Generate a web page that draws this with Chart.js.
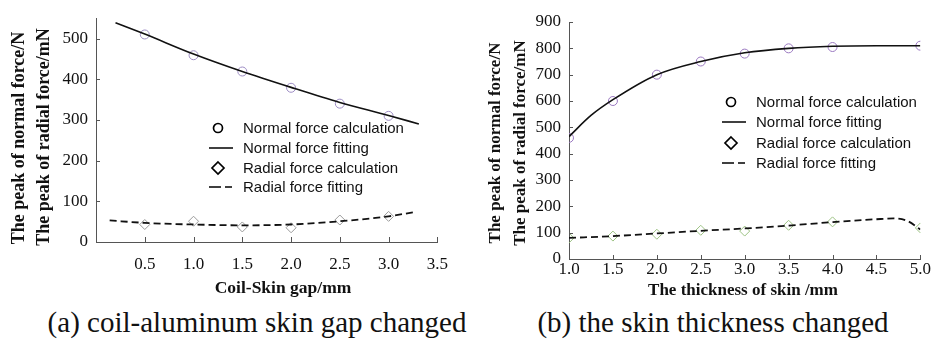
<!DOCTYPE html>
<html>
<head>
<meta charset="utf-8">
<script src="https://cdn.jsdelivr.net/npm/chart.js@4.4.0/dist/chart.umd.min.js"></script>
<style>
  body { margin: 0; background: #fff; width: 931px; height: 342px; position: relative; overflow: hidden; }
  .box { position: absolute; top: 0; height: 300px; }
  #boxA { left: 0; width: 460px; }
  #boxB { left: 460px; width: 471px; }
  .caption { position: absolute; top: 305px; font: 29px "Liberation Serif", serif; line-height: 34px;
             white-space: nowrap; transform: translateX(-50%); color: #111; }
  .ytitle, .xtitle { position: absolute; font-family: "Liberation Serif", serif; font-weight: bold; color: #111;
            white-space: nowrap; line-height: 20px; }
  .ytitle { transform: translate(-50%, -50%) rotate(-90deg); }
  .xtitle { transform: translate(-50%, -50%); }
  .legend { position: absolute; font: 15px "Liberation Sans", Arial, sans-serif; color: #111; }
  .legend .row { position: absolute; left: 0; height: 20px; line-height: 20px; white-space: nowrap; }
  .legend svg { position: absolute; left: 0; top: 0; }
  .legend span { position: absolute; left: 34px; top: 0; }
</style>
</head>
<body>
<div class="box" id="boxA"><canvas id="chartA"></canvas></div>
<div class="box" id="boxB"><canvas id="chartB"></canvas></div>

<div class="ytitle" id="ytA1" style="left:18px; top:138px; font-size:18px;"></div>
<div class="ytitle" id="ytA2" style="left:43px; top:137px; font-size:18px;"></div>
<div class="ytitle" id="ytB1" style="left:495px; top:143px; font-size:17px;"></div>
<div class="ytitle" id="ytB2" style="left:520px; top:143px; font-size:17px;"></div>
<div class="xtitle" id="xtA" style="left:283px; top:287px; font-size:17.5px;"></div>
<div class="xtitle" id="xtB" style="left:743px; top:290px; font-size:17px;"></div>

<div class="legend" id="legendA" style="left:209px; top:118px;"></div>
<div class="legend" id="legendB" style="left:722px; top:92px;"></div>

<div class="caption" style="left:257px;">(a) coil-aluminum skin gap changed</div>
<div class="caption" style="left:713px;">(b) the skin thickness changed</div>

<script>
/* ── (a) coil-skin gap ─────────────────────────────────────── */
const gapX          = [0.5, 1.0, 1.5, 2.0, 2.5, 3.0];
const gapNormalCalc = [510, 459, 419, 379, 340, 310];
const gapRadialCalc = [43, 51, 37, 35, 54, 63];
const gapNormalFitX = [0.2, 0.5, 1.0, 1.5, 2.0, 2.5, 3.0, 3.31];
const gapNormalFit  = [539, 511, 462, 419, 380, 343, 311, 290];
const gapRadialFitX = [0.14, 0.5, 1.0, 1.5, 2.0, 2.5, 3.0, 3.25];
const gapRadialFit  = [53, 47, 43, 41, 43, 51, 63, 73];

/* ── (b) skin thickness ────────────────────────────────────── */
const skinX          = [1.0, 1.5, 2.0, 2.5, 3.0, 3.5, 4.0, 5.0];
const skinNormalCalc = [460, 600, 700, 750, 780, 800, 805, 810];
const skinRadialCalc = [80, 87, 94, 109, 106, 128, 141, 118];
const skinNormalFitX = [1.0, 1.25, 1.5, 2.0, 2.5, 3.0, 3.5, 4.0, 4.5, 5.0];
const skinNormalFit  = [465, 545, 605, 700, 750, 783, 800, 808, 810, 810];
const skinRadialFitX = [1.0, 1.5, 2.0, 2.5, 3.0, 3.5, 4.0, 4.5, 4.7, 4.85, 5.0];
const skinRadialFit  = [80, 87, 97, 107, 116, 127, 140, 151, 154, 145, 112];

const legendLabels = ['Normal force calculation', 'Normal force fitting',
                      'Radial force calculation', 'Radial force fitting'];
const yTitle = ['The peak of normal force/N', 'The peak of radial force/mN'];
const xTitleA = 'Coil-Skin gap/mm';
const xTitleB = 'The thickness of skin /mm';

const SERIF = 'Liberation Serif';
const AXIS = '#555';

function pts(xs, ys) { return xs.map((x, i) => ({ x, y: ys[i] })); }

/* small inward tick marks on both axes */
const inwardTicks = {
  id: 'inwardTicks',
  afterDraw(chart, args, o) {
    const { ctx, chartArea: a, scales } = chart;
    ctx.save();
    ctx.strokeStyle = AXIS;
    ctx.lineWidth = 1;
    ctx.beginPath();
    scales.x.ticks.forEach(t => {
      const px = Math.round(scales.x.getPixelForValue(t.value)) + 0.5;
      ctx.moveTo(px, a.bottom); ctx.lineTo(px, a.bottom - o.xLen);
    });
    scales.y.ticks.forEach(t => {
      const py = Math.round(scales.y.getPixelForValue(t.value)) + 0.5;
      ctx.moveTo(a.left, py); ctx.lineTo(a.left + o.yLen, py);
    });
    ctx.stroke();
    ctx.restore();
  }
};

function makeChart(id, c) {
  return new Chart(document.getElementById(id), {
    type: 'scatter',
    data: {
      datasets: [
        { label: legendLabels[1], data: pts(c.nFitX, c.nFit), showLine: true, borderColor: '#111',
          borderWidth: 1.6, pointRadius: 0, cubicInterpolationMode: 'monotone' },
        { label: legendLabels[3], data: pts(c.rFitX, c.rFit), showLine: true, borderColor: '#111',
          borderWidth: 1.8, borderDash: [7, 4], pointRadius: 0, cubicInterpolationMode: 'monotone' },
        { label: legendLabels[0], data: pts(c.x, c.nCalc), pointStyle: 'circle', pointRadius: 4.5,
          borderColor: c.circleColor, backgroundColor: 'rgba(0,0,0,0)', borderWidth: 1 },
        { label: legendLabels[2], data: pts(c.x, c.rCalc), pointStyle: 'rectRot', pointRadius: 5,
          borderColor: c.diamondColor, backgroundColor: 'rgba(0,0,0,0)', borderWidth: 1 },
      ]
    },
    options: {
      responsive: true,
      maintainAspectRatio: false,
      animation: false,
      layout: { padding: { top: c.padTop, right: c.padRight, left: 0, bottom: 0 } },
      plugins: { legend: { display: false }, tooltip: { enabled: false }, inwardTicks: c.tickLen },
      scales: {
        x: {
          type: 'linear', min: c.xMin, max: c.xMax,
          afterFit: s => { s.height = c.xHeight; },
          ticks: { stepSize: 0.5, color: '#111', padding: c.xLabelPad, maxRotation: 0,
                   font: { family: SERIF, size: 17, weight: 'normal' },
                   callback: v => (c.hideZeroX && v === 0) ? '' : v.toFixed(1) },
          grid: { display: true, drawOnChartArea: false, drawTicks: false },
          border: { display: true, color: AXIS, width: 1 },
          title: { display: false }
        },
        y: {
          type: 'linear', min: 0, max: c.yMax,
          afterFit: s => { s.width = c.yWidth; },
          ticks: { stepSize: c.yStep, color: '#111', padding: 8,
                   font: { family: SERIF, size: 17, weight: 'normal' },
                   callback: v => v % 100 === 0 ? String(v) : '' },
          grid: { display: true, drawOnChartArea: false, drawTicks: false },
          border: { display: true, color: AXIS, width: 1 },
          title: { display: false }
        }
      }
    },
    plugins: [inwardTicks]
  });
}

makeChart('chartA', {
  x: gapX, nCalc: gapNormalCalc, rCalc: gapRadialCalc,
  nFitX: gapNormalFitX, nFit: gapNormalFit, rFitX: gapRadialFitX, rFit: gapRadialFit,
  circleColor: '#9d8cc4', diamondColor: '#9a9a9a',
  xMin: 0, xMax: 3.5, hideZeroX: true, yMax: 550, yStep: 50,
  padTop: 7, padRight: 13, xHeight: 58, yWidth: 96, xLabelPad: 12,
  tickLen: { xLen: 5, yLen: 4 }
});

makeChart('chartB', {
  x: skinX, nCalc: skinNormalCalc, rCalc: skinRadialCalc,
  nFitX: skinNormalFitX, nFit: skinNormalFit, rFitX: skinRadialFitX, rFit: skinRadialFit,
  circleColor: '#9a78c0', diamondColor: '#9cc283',
  xMin: 1.0, xMax: 5.0, hideZeroX: false, yMax: 900, yStep: 100,
  padTop: 22, padRight: 10, xHeight: 41, yWidth: 109, xLabelPad: 0,
  tickLen: { xLen: 4, yLen: 4 }
});

/* ── axis titles ───────────────────────────────────────────── */
['ytA1', 'ytB1'].forEach(id => { document.getElementById(id).textContent = yTitle[0]; });
['ytA2', 'ytB2'].forEach(id => { document.getElementById(id).textContent = yTitle[1]; });
document.getElementById('xtA').textContent = xTitleA;
document.getElementById('xtB').textContent = xTitleB;

/* ── HTML legends ──────────────────────────────────────────── */
const symbols = [
  '<circle cx="9" cy="10" r="4.5" fill="none" stroke="#000" stroke-width="1.7"/>',
  '<line x1="0" y1="10" x2="24" y2="10" stroke="#000" stroke-width="1.5"/>',
  '<path d="M9 4 L15 10 L9 16 L3 10 Z" fill="none" stroke="#000" stroke-width="1.7"/>',
  '<line x1="0" y1="10" x2="24" y2="10" stroke="#000" stroke-width="1.5" stroke-dasharray="12 4 7 10"/>'
];
function buildLegend(id, spacing) {
  document.getElementById(id).innerHTML = legendLabels.map((lab, i) => `
    <div class="row" style="top:${i * spacing}px">
      <svg width="26" height="20">${symbols[i]}</svg><span>${lab}</span>
    </div>`).join('');
}
buildLegend('legendA', 19.8);
buildLegend('legendB', 20.4);
</script>
</body>
</html>
